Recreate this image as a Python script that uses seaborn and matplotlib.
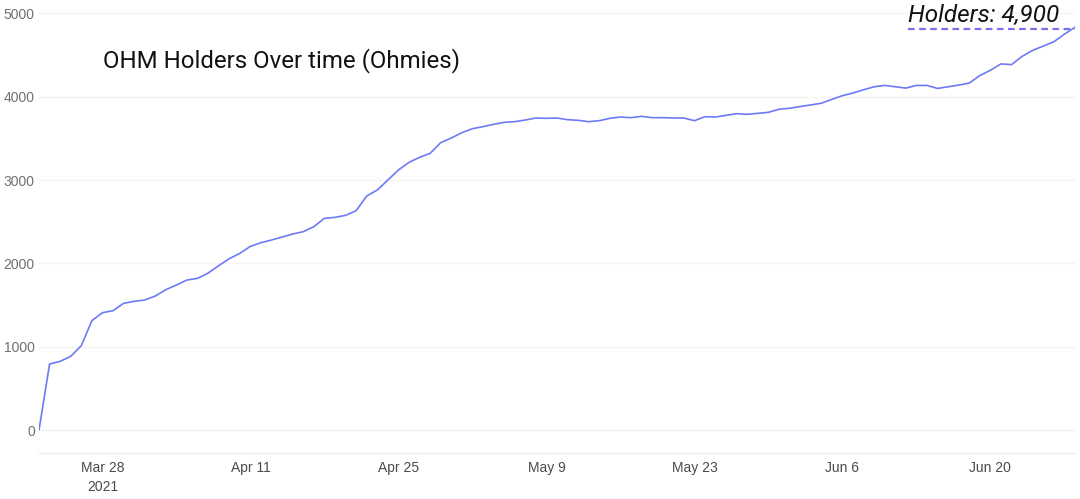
import numpy as np
import pandas as pd
import matplotlib
matplotlib.use('Agg')
import matplotlib.pyplot as plt
import seaborn as sns

# daily holder counts, 2021-03-22 .. 2021-06-28
dates = pd.date_range(start='2021-03-22', end='2021-06-28', freq='D')
holders = [0, 792, 824, 884, 1012, 1312, 1408, 1432, 1520, 1544,
           1560, 1608, 1684, 1740, 1800, 1820, 1884, 1972, 2056, 2120,
           2204, 2248, 2280, 2316, 2352, 2380, 2440, 2540, 2552, 2576,
           2632, 2808, 2880, 3000, 3120, 3212, 3272, 3320, 3448, 3504,
           3568, 3616, 3640, 3668, 3692, 3700, 3720, 3744, 3740, 3744,
           3724, 3716, 3700, 3712, 3740, 3756, 3748, 3764, 3748, 3748,
           3744, 3744, 3712, 3760, 3756, 3776, 3796, 3788, 3800, 3812,
           3849, 3861, 3881, 3901, 3921, 3968, 4012, 4044, 4083, 4119,
           4135, 4119, 4103, 4135, 4135, 4099, 4119, 4139, 4163, 4254,
           4317, 4393, 4385, 4484, 4556, 4607, 4659, 4750, 4833]
marker_level = 4810
y_ticks = [0, 1000, 2000, 3000, 4000, 5000]
x_ticks = pd.date_range(start='2021-03-28', periods=7, freq='14D')
x_labels = ['Mar 28\n2021', 'Apr 11', 'Apr 25', 'May 9', 'May 23', 'Jun 6', 'Jun 20']
title = 'OHM Holders Over time (Ohmies)'
badge = 'Holders: 4,900'

df = pd.DataFrame({'date': dates, 'holders': holders})

sns.set_style('white')
plt.rcParams['font.family'] = ['Liberation Sans', 'DejaVu Sans']

fig = plt.figure(figsize=(10.8, 4.99), dpi=100)
ax = fig.add_axes([39 / 1080, (499 - 452.7) / 499, (1075 - 39) / 1080, (452.7 - 5) / 499])

line_color = '#6e7af5'
sns.lineplot(data=df, x='date', y='holders', ax=ax, color=line_color, linewidth=1.2)

ax.set_xlim(dates[0], dates[-1])
ax.set_ylim(-272, 5100)
ax.set_yticks(y_ticks)
ax.set_yticklabels([str(v) for v in y_ticks])
ax.set_xticks(x_ticks)
ax.set_xticklabels(x_labels)
ax.set_xlabel('')
ax.set_ylabel('')

ax.grid(axis='y', color='#f4f4f4', linewidth=1)
ax.grid(axis='x', visible=False)
for side in ['left', 'right', 'top']:
    ax.spines[side].set_visible(False)
ax.spines['bottom'].set_color('#ececec')
ax.spines['bottom'].set_linewidth(1)

ax.tick_params(axis='y', length=0, pad=3, labelsize=10, labelcolor='#707070')
ax.tick_params(axis='x', length=3, width=0.8, color='#9a9a9a', pad=3,
               labelsize=10, labelcolor='#4a4a4a', direction='out')
for lbl in ax.get_xticklabels():
    lbl.set_linespacing(1.45)

ax.text(103 / 1080, (499 - 67) / 499, title, transform=fig.transFigure,
        fontsize=17.3, family=['Roboto', 'DejaVu Sans'], color='#111111',
        ha='left', va='baseline')

# last value marker with a dashed lead line
ax.hlines(marker_level, pd.Timestamp('2021-06-12 04:00'), dates[-1],
          colors='#7b6ff0', linestyles=(0, (3, 2)), linewidth=1.6)
fig.text(908 / 1080, (499 - 22) / 499, badge, fontsize=17.5,
         family=['Roboto', 'DejaVu Sans'], style='italic', color='#111111',
         ha='left', va='baseline')

fig.savefig('out.png', dpi=100, facecolor='white')
